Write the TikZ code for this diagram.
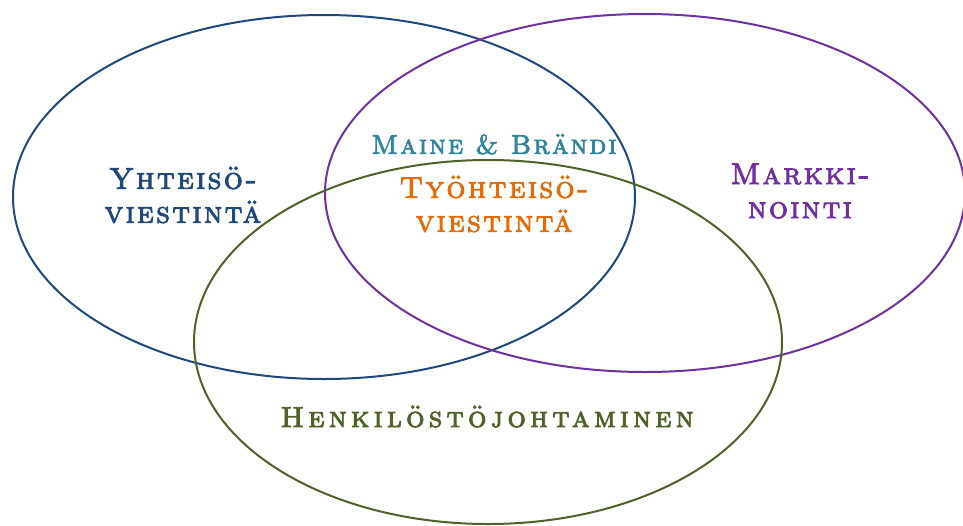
\documentclass[tikz,border=0pt]{standalone}
\usepackage{fontspec}
\usepackage{xcolor}
\usetikzlibrary{positioning}
\newfontfamily\capsfont[LetterSpace=8,FakeBold=3]{lmromancaps10-regular.otf}
\newfontfamily\widecapsfont[LetterSpace=15,FakeBold=3]{lmromancaps10-regular.otf}

\definecolor{yhtblue}{HTML}{1F497D}
\definecolor{markpurple}{HTML}{7030A0}
\definecolor{henkgreen}{HTML}{4F6228}
\definecolor{maineteal}{HTML}{31859C}
\definecolor{tyoorange}{HTML}{E36C09}

\begin{document}
\begin{tikzpicture}[
            x=1pt, y=-1pt,
            area/.style={line width=2pt},
            areatext/.style={font=\capsfont\fontsize{30}{34}\selectfont, align=center, inner sep=0pt},
            smalltext/.style={font=\capsfont\fontsize{27}{30}\selectfont, inner sep=0pt}
        ]

        \clip (0,0) rectangle (963,525);
        \useasboundingbox (0,0) rectangle (963,525);

        \coordinate (yht) at (324,197);
        \coordinate (mark) at (645,193);
        \coordinate (henk) at (488,342);

        \draw [area, yhtblue] (yht) ellipse [x radius=311, y radius=182];
        \draw [area, markpurple] (mark) ellipse [x radius=320, y radius=179];
        \draw [area, henkgreen] (henk) ellipse [x radius=294, y radius=182];

        \node (yhtteksti) [areatext, text=yhtblue] at (183,195) {Yhteisö-\\viestintä};
        \node (markteksti) [areatext, text=markpurple] at (800,191) {Markki-\\nointi};
        \node (tyoteksti) [areatext, text=tyoorange] at (494,204) {Työhteisö-\\viestintä};
        \node (maine) [smalltext, text=maineteal, above=21pt of tyoteksti] {Maine \& Brändi};
        \node (henkteksti) [smalltext, font=\widecapsfont\fontsize{29}{32}\selectfont, text=henkgreen, anchor=base] at (487,427) {Henkilöstöjohtaminen};
        \end{tikzpicture}
\end{document}
